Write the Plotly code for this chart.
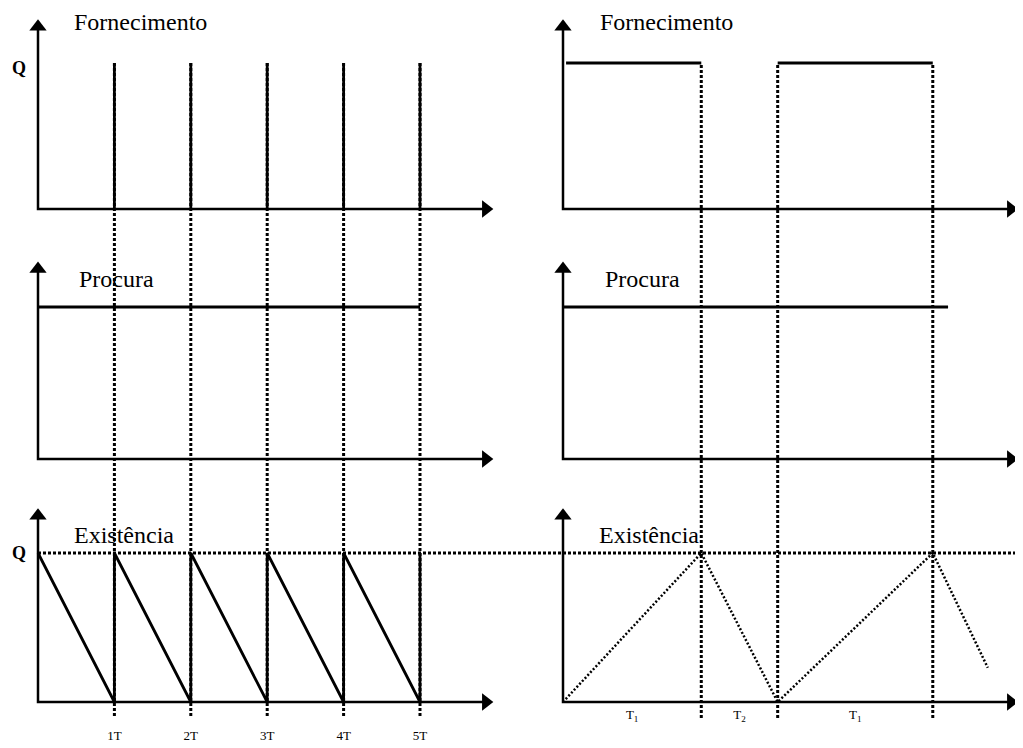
import plotly.graph_objects as go

# ---------------- data ----------------
Q = 1.0
periods = [1, 2, 3, 4, 5]
period_labels = ["1T", "2T", "3T", "4T", "5T"]
demand_level = 1.0
demand_end_left = 5.0
inv_left_t = [0, 1, 1, 2, 2, 3, 3, 4, 4, 5, 5]
inv_left_q = [1, 0, 1, 0, 1, 0, 1, 0, 1, 0, 1]

phase_bounds = [0, 1.81, 2.81, 4.84]
phase_labels = ["T<sub>1</sub>", "T<sub>2</sub>", "T<sub>1</sub>"]
supply_right_t = [[0.04, 1.81], [2.81, 4.84]]
demand_end_right = 5.04
inv_right_t = [0, 1.81, 2.81, 4.84, 5.56]
inv_right_q = [0, 1, 0, 1, 0.23]

axis_len_t = 5.96
axis_len_q = 1.3

# ---------------- layout helpers ----------------
OFF = 8                     # page body margin of the browser
W, H = 1023 - OFF, 748 - OFF
PXT = 76.4
ORIG_L, ORIG_R = 38 - OFF, 563 - OFF
rows = {"y": (209 - OFF, 63 - OFF), "y2": (459 - OFF, 307 - OFF), "y3": (702 - OFF, 553 - OFF)}
SERIF = "Liberation Serif, Times New Roman, serif"
BLK = "black"
HEAD = 15


def xr(orig):
    return [-orig / PXT, (W - orig) / PXT]


def yr(base, qpx):
    s = base - qpx
    return [(base - H) / s, base / s]


def px(p):
    return (p - OFF) / W


def py(p):
    return 1 - (p - OFF) / H


fig = go.Figure()

# axes with arrow heads
for xa in ["x", "x2"]:
    for ya in ["y", "y2", "y3"]:
        base, qpx = rows[ya]
        s = base - qpx
        tx = axis_len_t - (HEAD / 2) / PXT
        ty = axis_len_q - (HEAD / 2) / s
        fig.add_trace(go.Scatter(x=[tx, 0, 0], y=[0, 0, ty], mode="lines", xaxis=xa, yaxis=ya,
                                 line=dict(color=BLK, width=2.5), hoverinfo="skip"))
        fig.add_trace(go.Scatter(x=[tx, 0], y=[0, ty], mode="markers", xaxis=xa, yaxis=ya,
                                 marker=dict(symbol=["triangle-right", "triangle-up"], size=HEAD,
                                             color=BLK, line=dict(width=0)),
                                 hoverinfo="skip"))

# Supply, left: instantaneous deliveries
for t in periods:
    fig.add_trace(go.Scatter(x=[t, t], y=[0, Q], mode="lines", xaxis="x", yaxis="y",
                             line=dict(color=BLK, width=2.8)))
# Supply, right: production periods
for seg in supply_right_t:
    fig.add_trace(go.Scatter(x=seg, y=[Q, Q], mode="lines", xaxis="x2", yaxis="y",
                             line=dict(color=BLK, width=2.8)))
# Demand
fig.add_trace(go.Scatter(x=[0, demand_end_left], y=[demand_level] * 2, mode="lines",
                         xaxis="x", yaxis="y2", line=dict(color=BLK, width=2.8)))
fig.add_trace(go.Scatter(x=[0, demand_end_right], y=[demand_level] * 2, mode="lines",
                         xaxis="x2", yaxis="y2", line=dict(color=BLK, width=2.8)))
# Inventory
fig.add_trace(go.Scatter(x=inv_left_t, y=inv_left_q, mode="lines", xaxis="x", yaxis="y3",
                         line=dict(color=BLK, width=2.8)))
fig.add_trace(go.Scatter(x=inv_right_t, y=inv_right_q, mode="lines", xaxis="x2", yaxis="y3",
                         line=dict(color=BLK, width=2.5, dash="2px,2px")))

shapes = []
# dotted verticals
for t in periods:
    shapes.append(dict(type="line", xref="x", yref="paper", x0=t, x1=t,
                       y0=py(716), y1=py(62), layer="below",
                       line=dict(color=BLK, width=3, dash="3px,2px")))
for t in phase_bounds[1:]:
    shapes.append(dict(type="line", xref="x2", yref="paper", x0=t, x1=t,
                       y0=py(718), y1=py(64), layer="below",
                       line=dict(color=BLK, width=3, dash="3px,2px")))
# dotted Q level across the bottom row
shapes.append(dict(type="line", xref="paper", yref="y3", x0=px(38), x1=px(1020),
                   y0=Q, y1=Q, layer="below",
                   line=dict(color=BLK, width=3, dash="3px,2px")))

annotations = []
# top titles anchored at the page top so they are not clipped
for txt, x in [("Fornecimento", 73), ("Fornecimento", 599)]:
    annotations.append(dict(xref="paper", yref="paper", x=px(x), y=1, text=txt,
                            showarrow=False, xanchor="left", yanchor="top", borderpad=0,
                            font=dict(family=SERIF, size=24, color=BLK)))
titles = [("Procura", 77, 279), ("Procura", 603, 279),
          ("Existência", 72, 535), ("Existência", 597, 535)]
for txt, x, y in titles:
    annotations.append(dict(xref="paper", yref="paper", x=px(x), y=py(y), text=txt,
                            showarrow=False, xanchor="left", yanchor="middle",
                            font=dict(family=SERIF, size=24, color=BLK)))
for y in [68, 553]:
    annotations.append(dict(xref="paper", yref="paper", x=px(19), y=py(y), text="<b>Q</b>",
                            showarrow=False, xanchor="center", yanchor="middle",
                            font=dict(family=SERIF, size=18, color=BLK)))

mids = [(phase_bounds[i] + phase_bounds[i + 1]) / 2 for i in range(3)]

hidden = dict(showgrid=False, zeroline=False, showline=False, ticks="", showticklabels=False,
              fixedrange=True)
fig.update_layout(
    width=W, height=H, margin=dict(l=0, r=0, t=0, b=0),
    paper_bgcolor="white", plot_bgcolor="rgba(0,0,0,0)", showlegend=False,
    xaxis=dict(hidden, domain=[0, 1], range=xr(ORIG_L), anchor="free", position=py(726),
               showticklabels=True, tickvals=periods, ticktext=period_labels,
               tickfont=dict(family=SERIF, size=13, color=BLK)),
    xaxis2=dict(hidden, domain=[0, 1], range=xr(ORIG_R), anchor="free", position=py(705),
                showticklabels=True, tickvals=mids, ticktext=phase_labels,
                tickfont=dict(family=SERIF, size=13, color=BLK)),
    yaxis=dict(hidden, domain=[0, 1], range=yr(*rows["y"]), anchor="free", position=0),
    yaxis2=dict(hidden, domain=[0, 1], range=yr(*rows["y2"]), anchor="free", position=0),
    yaxis3=dict(hidden, domain=[0, 1], range=yr(*rows["y3"]), anchor="free", position=0),
    shapes=shapes, annotations=annotations,
)

fig.write_html("out.html")
